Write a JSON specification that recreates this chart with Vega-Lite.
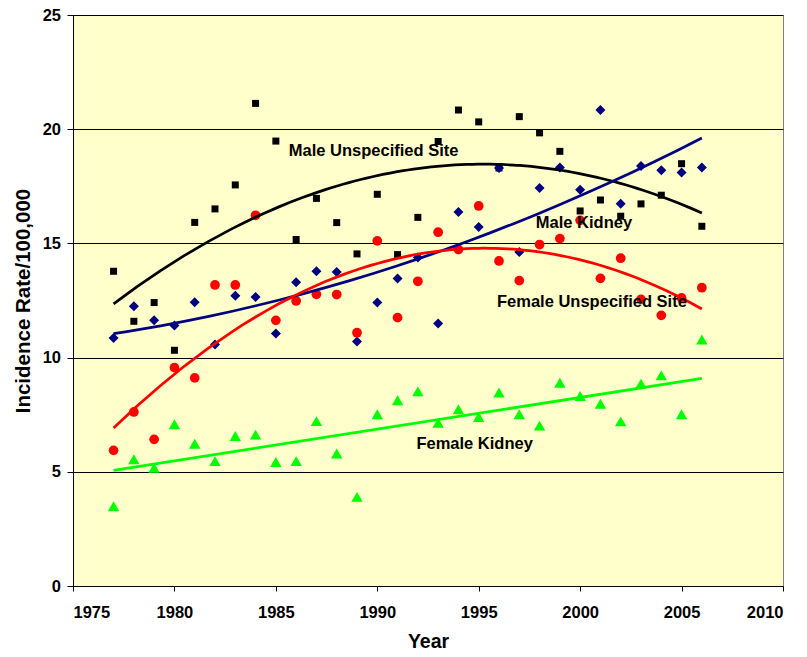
{
  "$schema": "https://vega.github.io/schema/vega-lite/v6.json",
  "width": 710,
  "height": 571,
  "autosize": {"type": "none"},
  "padding": {"left": 73, "top": 15, "right": 24, "bottom": 71},
  "background": "white",
  "config": {
    "view": {"fill": "#FFFFCC", "stroke": "#808080", "strokeWidth": 1},
    "font": "Liberation Sans",
    "axis": {
      "labelFont": "Liberation Sans",
      "labelFontWeight": "bold",
      "labelFontSize": 16.5,
      "labelColor": "#000000",
      "titleFont": "Liberation Sans",
      "titleFontWeight": "bold",
      "titleColor": "#000000",
      "domainColor": "#000000",
      "tickColor": "#000000",
      "gridColor": "#000000",
      "gridOpacity": 1,
      "gridWidth": 1
    }
  },
  "datasets": {
    "points": [
      {"series": "Male Unspecified Site", "year": 1977, "value": 13.78},
      {"series": "Male Unspecified Site", "year": 1978, "value": 11.59},
      {"series": "Male Unspecified Site", "year": 1979, "value": 12.41},
      {"series": "Male Unspecified Site", "year": 1980, "value": 10.32},
      {"series": "Male Unspecified Site", "year": 1981, "value": 15.92},
      {"series": "Male Unspecified Site", "year": 1982, "value": 16.51},
      {"series": "Male Unspecified Site", "year": 1983, "value": 17.56},
      {"series": "Male Unspecified Site", "year": 1984, "value": 21.13},
      {"series": "Male Unspecified Site", "year": 1985, "value": 19.48},
      {"series": "Male Unspecified Site", "year": 1986, "value": 15.17},
      {"series": "Male Unspecified Site", "year": 1987, "value": 16.97},
      {"series": "Male Unspecified Site", "year": 1988, "value": 15.91},
      {"series": "Male Unspecified Site", "year": 1989, "value": 14.54},
      {"series": "Male Unspecified Site", "year": 1990, "value": 17.15},
      {"series": "Male Unspecified Site", "year": 1991, "value": 14.51},
      {"series": "Male Unspecified Site", "year": 1992, "value": 16.14},
      {"series": "Male Unspecified Site", "year": 1993, "value": 19.46},
      {"series": "Male Unspecified Site", "year": 1994, "value": 20.84},
      {"series": "Male Unspecified Site", "year": 1995, "value": 20.32},
      {"series": "Male Unspecified Site", "year": 1996, "value": 18.3},
      {"series": "Male Unspecified Site", "year": 1997, "value": 20.55},
      {"series": "Male Unspecified Site", "year": 1998, "value": 19.84},
      {"series": "Male Unspecified Site", "year": 1999, "value": 19.03},
      {"series": "Male Unspecified Site", "year": 2000, "value": 16.42},
      {"series": "Male Unspecified Site", "year": 2001, "value": 16.9},
      {"series": "Male Unspecified Site", "year": 2002, "value": 16.19},
      {"series": "Male Unspecified Site", "year": 2003, "value": 16.73},
      {"series": "Male Unspecified Site", "year": 2004, "value": 17.11},
      {"series": "Male Unspecified Site", "year": 2005, "value": 18.49},
      {"series": "Male Unspecified Site", "year": 2006, "value": 15.75},
      {"series": "Male Kidney", "year": 1977, "value": 10.86},
      {"series": "Male Kidney", "year": 1978, "value": 12.25},
      {"series": "Male Kidney", "year": 1979, "value": 11.63},
      {"series": "Male Kidney", "year": 1980, "value": 11.4},
      {"series": "Male Kidney", "year": 1981, "value": 12.42},
      {"series": "Male Kidney", "year": 1982, "value": 10.57},
      {"series": "Male Kidney", "year": 1983, "value": 12.71},
      {"series": "Male Kidney", "year": 1984, "value": 12.65},
      {"series": "Male Kidney", "year": 1985, "value": 11.05},
      {"series": "Male Kidney", "year": 1986, "value": 13.3},
      {"series": "Male Kidney", "year": 1987, "value": 13.78},
      {"series": "Male Kidney", "year": 1988, "value": 13.75},
      {"series": "Male Kidney", "year": 1989, "value": 10.71},
      {"series": "Male Kidney", "year": 1990, "value": 12.41},
      {"series": "Male Kidney", "year": 1991, "value": 13.46},
      {"series": "Male Kidney", "year": 1992, "value": 14.38},
      {"series": "Male Kidney", "year": 1993, "value": 11.49},
      {"series": "Male Kidney", "year": 1994, "value": 16.38},
      {"series": "Male Kidney", "year": 1995, "value": 15.72},
      {"series": "Male Kidney", "year": 1996, "value": 18.3},
      {"series": "Male Kidney", "year": 1997, "value": 14.62},
      {"series": "Male Kidney", "year": 1998, "value": 17.43},
      {"series": "Male Kidney", "year": 1999, "value": 18.32},
      {"series": "Male Kidney", "year": 2000, "value": 17.35},
      {"series": "Male Kidney", "year": 2001, "value": 20.84},
      {"series": "Male Kidney", "year": 2002, "value": 16.74},
      {"series": "Male Kidney", "year": 2003, "value": 18.39},
      {"series": "Male Kidney", "year": 2004, "value": 18.2},
      {"series": "Male Kidney", "year": 2005, "value": 18.1},
      {"series": "Male Kidney", "year": 2006, "value": 18.32},
      {"series": "Female Unspecified Site", "year": 1977, "value": 5.94},
      {"series": "Female Unspecified Site", "year": 1978, "value": 7.62},
      {"series": "Female Unspecified Site", "year": 1979, "value": 6.42},
      {"series": "Female Unspecified Site", "year": 1980, "value": 9.56},
      {"series": "Female Unspecified Site", "year": 1981, "value": 9.11},
      {"series": "Female Unspecified Site", "year": 1982, "value": 13.18},
      {"series": "Female Unspecified Site", "year": 1983, "value": 13.18},
      {"series": "Female Unspecified Site", "year": 1984, "value": 16.23},
      {"series": "Female Unspecified Site", "year": 1985, "value": 11.63},
      {"series": "Female Unspecified Site", "year": 1986, "value": 12.48},
      {"series": "Female Unspecified Site", "year": 1987, "value": 12.77},
      {"series": "Female Unspecified Site", "year": 1988, "value": 12.76},
      {"series": "Female Unspecified Site", "year": 1989, "value": 11.09},
      {"series": "Female Unspecified Site", "year": 1990, "value": 15.11},
      {"series": "Female Unspecified Site", "year": 1991, "value": 11.75},
      {"series": "Female Unspecified Site", "year": 1992, "value": 13.34},
      {"series": "Female Unspecified Site", "year": 1993, "value": 15.49},
      {"series": "Female Unspecified Site", "year": 1994, "value": 14.73},
      {"series": "Female Unspecified Site", "year": 1995, "value": 16.64},
      {"series": "Female Unspecified Site", "year": 1996, "value": 14.23},
      {"series": "Female Unspecified Site", "year": 1997, "value": 13.37},
      {"series": "Female Unspecified Site", "year": 1998, "value": 14.95},
      {"series": "Female Unspecified Site", "year": 1999, "value": 15.21},
      {"series": "Female Unspecified Site", "year": 2000, "value": 16.01},
      {"series": "Female Unspecified Site", "year": 2001, "value": 13.47},
      {"series": "Female Unspecified Site", "year": 2002, "value": 14.35},
      {"series": "Female Unspecified Site", "year": 2003, "value": 12.55},
      {"series": "Female Unspecified Site", "year": 2004, "value": 11.85},
      {"series": "Female Unspecified Site", "year": 2005, "value": 12.61},
      {"series": "Female Unspecified Site", "year": 2006, "value": 13.06},
      {"series": "Female Kidney", "year": 1977, "value": 3.49},
      {"series": "Female Kidney", "year": 1978, "value": 5.55},
      {"series": "Female Kidney", "year": 1979, "value": 5.17},
      {"series": "Female Kidney", "year": 1980, "value": 7.08},
      {"series": "Female Kidney", "year": 1981, "value": 6.23},
      {"series": "Female Kidney", "year": 1982, "value": 5.47},
      {"series": "Female Kidney", "year": 1983, "value": 6.57},
      {"series": "Female Kidney", "year": 1984, "value": 6.63},
      {"series": "Female Kidney", "year": 1985, "value": 5.43},
      {"series": "Female Kidney", "year": 1986, "value": 5.47},
      {"series": "Female Kidney", "year": 1987, "value": 7.22},
      {"series": "Female Kidney", "year": 1988, "value": 5.8},
      {"series": "Female Kidney", "year": 1989, "value": 3.9},
      {"series": "Female Kidney", "year": 1990, "value": 7.52},
      {"series": "Female Kidney", "year": 1991, "value": 8.13},
      {"series": "Female Kidney", "year": 1992, "value": 8.52},
      {"series": "Female Kidney", "year": 1993, "value": 7.14},
      {"series": "Female Kidney", "year": 1994, "value": 7.74},
      {"series": "Female Kidney", "year": 1995, "value": 7.4},
      {"series": "Female Kidney", "year": 1996, "value": 8.47},
      {"series": "Female Kidney", "year": 1997, "value": 7.52},
      {"series": "Female Kidney", "year": 1998, "value": 7.02},
      {"series": "Female Kidney", "year": 1999, "value": 8.9},
      {"series": "Female Kidney", "year": 2000, "value": 8.32},
      {"series": "Female Kidney", "year": 2001, "value": 7.98},
      {"series": "Female Kidney", "year": 2002, "value": 7.21},
      {"series": "Female Kidney", "year": 2003, "value": 8.86},
      {"series": "Female Kidney", "year": 2004, "value": 9.22},
      {"series": "Female Kidney", "year": 2005, "value": 7.52},
      {"series": "Female Kidney", "year": 2006, "value": 10.79}
    ],
    "labels": [
      {"label": "Male Unspecified Site", "year": 1989.82, "value": 19.06},
      {"label": "Male Kidney", "year": 2000.19, "value": 15.89},
      {"label": "Female Unspecified Site", "year": 2000.58, "value": 12.43},
      {"label": "Female Kidney", "year": 1994.8, "value": 6.23}
    ]
  },
  "encoding": {
    "x": {
      "field": "year",
      "type": "quantitative",
      "scale": {"domain": [1975, 2010], "nice": false, "zero": false},
      "axis": {
        "values": [1975, 1980, 1985, 1990, 1995, 2000, 2005, 2010],
        "format": "d",
        "grid": false,
        "tickSize": 5,
        "labelPadding": 13,
        "title": "Year",
        "titleFontSize": 19.5,
        "titlePadding": 12
      }
    },
    "y": {
      "field": "value",
      "type": "quantitative",
      "scale": {"domain": [0, 25], "nice": false},
      "axis": {
        "values": [0, 5, 10, 15, 20, 25],
        "grid": true,
        "tickSize": 6,
        "labelPadding": 6.5,
        "title": "Incidence Rate/100,000",
        "titleFontSize": 20.5,
        "titlePadding": 9
      }
    }
  },
  "layer": [
    {
      "data": {"name": "points"},
      "transform": [{"filter": "datum.series === 'Male Unspecified Site'"}],
      "mark": {"type": "point", "shape": "square", "filled": true, "opacity": 1, "size": 49, "color": "#000000"}
    },
    {
      "data": {"name": "points"},
      "transform": [{"filter": "datum.series === 'Male Kidney'"}],
      "mark": {"type": "point", "shape": "diamond", "filled": true, "opacity": 1, "size": 100, "color": "#000080"}
    },
    {
      "data": {"name": "points"},
      "transform": [{"filter": "datum.series === 'Female Unspecified Site'"}],
      "mark": {"type": "point", "shape": "circle", "filled": true, "opacity": 1, "size": 95, "color": "#FF0000"}
    },
    {
      "data": {"name": "points"},
      "transform": [{"filter": "datum.series === 'Female Kidney'"}],
      "mark": {"type": "point", "shape": "triangle-up", "filled": true, "opacity": 1, "size": 130, "color": "#00FF00"}
    },
    {
      "data": {"name": "points"},
      "transform": [
        {"filter": "datum.series !== 'Female Kidney'"},
        {"regression": "value", "on": "year", "method": "poly", "order": 2, "groupby": ["series"]}
      ],
      "mark": {"type": "line", "strokeWidth": 2.75},
      "encoding": {
        "color": {
          "field": "series",
          "type": "nominal",
          "scale": {
            "domain": ["Male Unspecified Site", "Male Kidney", "Female Unspecified Site", "Female Kidney"],
            "range": ["#000000", "#000080", "#FF0000", "#00FF00"]
          },
          "legend": null
        }
      }
    },
    {
      "data": {"name": "points"},
      "transform": [
        {"filter": "datum.series === 'Female Kidney'"},
        {"regression": "value", "on": "year", "method": "linear"}
      ],
      "mark": {"type": "line", "strokeWidth": 2.75, "color": "#00FF00"},
      "encoding": {}
    },
    {
      "data": {"name": "labels"},
      "mark": {
        "type": "text",
        "font": "Liberation Sans",
        "fontWeight": "bold",
        "fontSize": 16.5,
        "color": "#000000",
        "align": "center",
        "baseline": "middle"
      },
      "encoding": {
        "text": {"field": "label", "type": "nominal"}
      }
    }
  ]
}
